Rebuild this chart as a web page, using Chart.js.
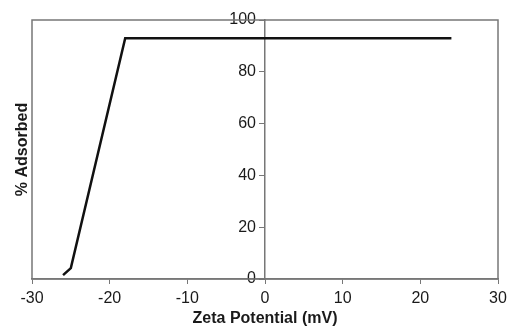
<!DOCTYPE html>
<html>
<head>
<meta charset="utf-8">
<script src="https://cdn.jsdelivr.net/npm/chart.js@4.4.1/dist/chart.umd.min.js"></script>
<style>
html,body{margin:0;padding:0;background:#fff;}
#wrap{width:507px;height:327px;}
</style>
</head>
<body>
<div id="wrap"><canvas id="c" width="507" height="327"></canvas></div>
<script>
const zetaPotential = [-26, -25, -18, 24];
const percentAdsorbed = [1.5, 4.2, 93, 93];
const xTicks = [-30, -20, -10, 0, 10, 20, 30];
const yTicks = [0, 20, 40, 60, 80, 100];

const FONT = "'Liberation Sans', Arial, sans-serif";
const AXIS_COLOR = '#777777';

const boxPlugin = {
  id: 'plotBox',
  afterDraw(chart) {
    const a = chart.chartArea, ctx = chart.ctx;
    ctx.save();
    ctx.strokeStyle = AXIS_COLOR;
    ctx.lineWidth = 1.5;
    ctx.strokeRect(a.left, a.top, a.right - a.left, a.bottom - a.top);
    ctx.restore();
  }
};

Chart.defaults.font.family = FONT;
Chart.defaults.color = '#1a1a1a';

new Chart(document.getElementById('c'), {
  type: 'scatter',
  data: {
    datasets: [{
      data: zetaPotential.map((x, i) => ({x: x, y: percentAdsorbed[i]})),
      showLine: true,
      borderColor: '#111111',
      borderWidth: 2.5,
      pointRadius: 0,
      tension: 0,
      xAxisID: 'x',
      yAxisID: 'y'
    }]
  },
  options: {
    responsive: false,
    animation: false,
    devicePixelRatio: 1,
    layout: {padding: {left: 12, right: 0, top: 20, bottom: 0}},
    plugins: {legend: {display: false}, tooltip: {enabled: false}},
    scales: {
      x: {
        type: 'linear',
        position: 'bottom',
        min: -30, max: 30,
        afterBuildTicks(s) { s.ticks = xTicks.map(v => ({value: v})); },
        afterFit(s) { s.height = 48; s.paddingLeft = 0; s.paddingRight = 9; },
        ticks: {font: {size: 16, lineHeight: 1.0}, padding: 7, color: '#1a1a1a', maxRotation: 0},
        grid: {drawOnChartArea: false, drawTicks: true, tickLength: 5, color: AXIS_COLOR, lineWidth: 1},
        border: {display: true, color: AXIS_COLOR, width: 1.5},
        title: {display: true, text: 'Zeta Potential (mV)', font: {size: 16, weight: 'bold', lineHeight: 1.0}, color: '#1a1a1a', padding: {top: 5, bottom: 0}}
      },
      y: {
        type: 'linear',
        position: 'center',
        min: 0, max: 100,
        afterBuildTicks(s) { s.ticks = yTicks.map(v => ({value: v})); },
        ticks: {font: {size: 16}, padding: 4, color: '#1a1a1a'},
        grid: {drawOnChartArea: false, drawTicks: true, tickLength: 5, color: AXIS_COLOR, lineWidth: 1},
        border: {display: true, color: AXIS_COLOR, width: 1.5}
      },
      yTitle: {
        type: 'linear',
        position: 'left',
        min: 0, max: 100,
        ticks: {display: false},
        grid: {display: false},
        border: {display: false},
        afterFit(s) { s.width = 20; },
        title: {display: true, text: '% Adsorbed', font: {size: 16, weight: 'bold'}, color: '#1a1a1a', padding: {top: 1, bottom: 0}}
      }
    }
  },
  plugins: [boxPlugin]
});
</script>
</body>
</html>
